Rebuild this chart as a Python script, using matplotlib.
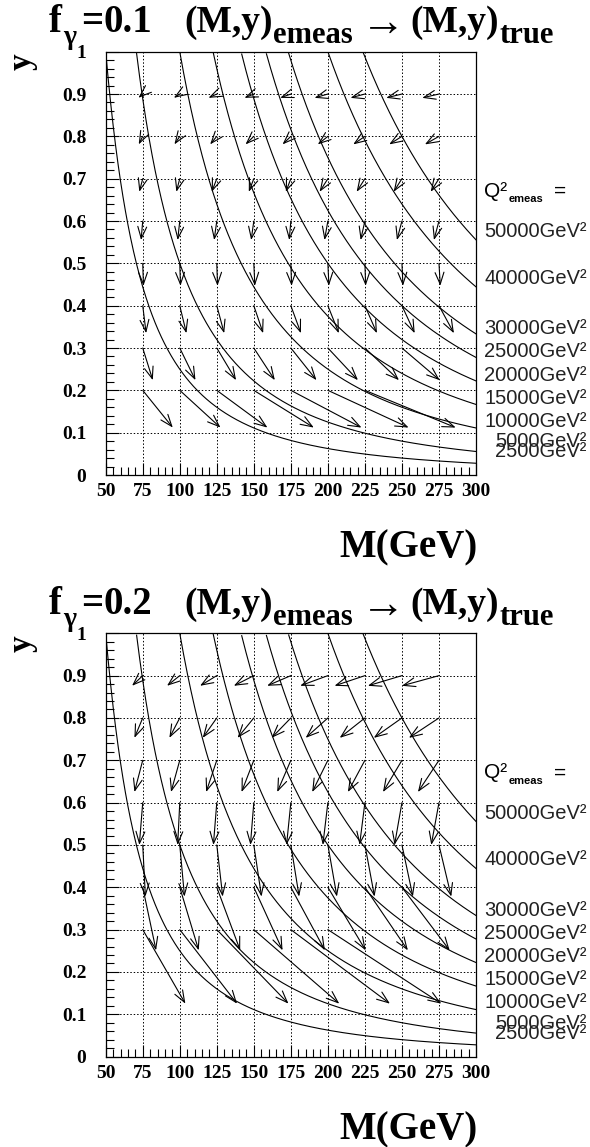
import numpy as np
import matplotlib
matplotlib.use("Agg")
import matplotlib.pyplot as plt
from matplotlib.ticker import MultipleLocator
from matplotlib.transforms import blended_transform_factory

# ---------------- data ----------------
f_gamma = ["0.1", "0.2"]

# iso-Q2 curves, y = Q2 / M^2
q2_values = [2500, 5000, 10000, 15000, 20000, 25000, 30000, 40000, 50000]
q2_label_y = [0.055, 0.078, 0.127, 0.181, 0.236, 0.291, 0.345, 0.465, 0.575]
q2_header_y = 0.670

# grid of measured points
m_grid = [75, 100, 125, 150, 175, 200, 225, 250, 275]
y_rows = [0.9, 0.8, 0.7, 0.6, 0.5, 0.4, 0.3, 0.2]

# shift in M (GeV) from measured to true, one list per measured-y row
dm_f01 = [
    [-2.9, -4.0, -5.6, -6.3, -7.2, -9.0, -9.7, -10.6, -11.3],
    [-2.7, -3.6, -4.5, -5.6, -5.6, -6.8, -7.9, -8.6, -9.5],
    [-2.3, -2.3, -3.4, -3.4, -3.4, -5.6, -5.6, -5.6, -5.6],
    [-1.1, -1.4, -1.8, -1.8, -1.1, -2.3, -2.9, -3.4, -3.4],
    [0.5, 0.5, 0.5, 0.7, 0.5, 0.7, 0.5, 0.7, 0.9],
    [2.3, 4.5, 5.0, 6.3, 6.8, 7.4, 8.1, 8.6, 10.1],
    [6.8, 10.6, 13.0, 14.2, 17.3, 20.3, 23.0, 25.5],
    [20.3, 27.5, 34.2, 40.5, 47.7, 54.5, 61.3],
]
dy_f01 = [-0.009, -0.019, -0.031, -0.045, -0.053, -0.065, -0.076, -0.088]

dm_f02 = [
    [-7.2, -8.6, -11.3, -13.5, -16.0, -18.7, -20.5, -23.0, -25.0],
    [-5.6, -7.0, -9.5, -11.0, -13.0, -15.0, -17.0, -19.0, -20.3],
    [-5.6, -5.9, -7.2, -8.3, -9.2, -10.6, -11.5, -12.8, -14.2],
    [-2.3, -1.4, -2.3, -2.3, -2.9, -3.4, -3.6, -5.0, -5.2],
    [1.8, 3.2, 4.0, 5.2, 5.6, 6.1, 6.5, 7.4, 8.3],
    [9.0, 12.8, 15.8, 19.4, 23.0, 25.5, 29.0, 32.2],
    [28.8, 38.7, 48.4, 57.7, 66.9, 76.6],
    [],
]
dy_f02 = [-0.024, -0.047, -0.075, -0.100, -0.122, -0.149, -0.175, -0.2]

x_ticks = [50, 75, 100, 125, 150, 175, 200, 225, 250, 275, 300]
y_ticks = [0, 0.1, 0.2, 0.3, 0.4, 0.5, 0.6, 0.7, 0.8, 0.9, 1]
y_tick_labels = ["0", "0.1", "0.2", "0.3", "0.4", "0.5", "0.6", "0.7", "0.8", "0.9", "1"]

# ---------------- drawing ----------------
W, H = 590, 1147
fig = plt.figure(figsize=(W / 100, H / 100), dpi=100)
renderer = fig.canvas.get_renderer()

serif = "Liberation Serif"
sans = "Liberation Sans"


def px_x(p):
    return p / W


def px_y(p):
    return 1 - p / H


def text_run(x0, baseline, pieces):
    """Lay out (string, size, drop_px, gap_px) pieces left to right."""
    x = x0
    for s, size, drop, gap in pieces:
        x += gap
        t = fig.text(px_x(x), px_y(baseline + drop), s, fontsize=size,
                     family=serif, weight="bold", va="baseline", ha="left")
        x += t.get_window_extent(renderer).width
    return x


def panel(top_px, fval, dms, dys):
    left, right, bottom = 105.7, 476.0, top_px + 423.3
    ax = fig.add_axes([px_x(left), px_y(bottom), (right - left) / W, 423.3 / H])
    ax.set_xlim(50, 300)
    ax.set_ylim(0, 1)

    # iso-Q2 curves
    m = np.linspace(50, 300, 600)
    for q2 in q2_values:
        yv = q2 / m ** 2
        ok = yv <= 1.0
        ax.plot(m[ok], yv[ok], color="black", lw=0.8, zorder=3)

    # arrows measured -> true
    for yr, row, dyr in zip(y_rows, dms, dys):
        for m0, dm in zip(m_grid, row):
            ax.annotate("", xy=(m0 + dm, yr + dyr), xytext=(m0, yr),
                        arrowprops=dict(arrowstyle="->,head_length=0.85,head_width=0.32",
                                        lw=0.8, color="black",
                                        shrinkA=0, shrinkB=0),
                        zorder=4)

    # axes styling
    ax.set_xticks(x_ticks)
    ax.set_xticklabels([str(t) for t in x_ticks])
    ax.set_yticks(y_ticks)
    ax.set_yticklabels(y_tick_labels)
    ax.xaxis.set_minor_locator(MultipleLocator(5))
    ax.yaxis.set_minor_locator(MultipleLocator(0.02))
    ax.tick_params(which="both", direction="in", top=False, right=False,
                   color="black", width=0.8)
    ax.tick_params(which="major", length=9)
    ax.tick_params(which="minor", length=6)
    ax.tick_params(axis="x", which="major", pad=6)
    ax.tick_params(axis="y", which="major", pad=14)
    for lab in ax.get_xticklabels() + ax.get_yticklabels():
        lab.set_fontfamily(serif)
        lab.set_fontweight("bold")
        lab.set_fontsize(14)
    ax.grid(True, which="major", color="black", lw=0.7, linestyle=(0, (1.5, 2)))
    for s in ax.spines.values():
        s.set_linewidth(0.9)

    # Q2 labels on the right
    tr = blended_transform_factory(ax.transAxes, ax.transData)
    for q2, yl in zip(q2_values, q2_label_y):
        xoff = 1.052 if q2 in (2500, 5000) else 1.022
        ax.text(xoff, yl, f"{q2}GeV²", transform=tr, fontsize=14.5,
                family=sans, color="#222222", va="center", ha="left")
    ax.text(1.022, q2_header_y, "Q²", transform=tr, fontsize=15,
            family=sans, color="black", va="center", ha="left")
    ax.text(1.087, q2_header_y - 0.019, "emeas", transform=tr, fontsize=8,
            family=sans, weight="bold", color="black", va="center", ha="left")
    ax.text(1.21, q2_header_y, "=", transform=tr, fontsize=15,
            family=sans, color="black", va="center", ha="left")

    # titles
    base = top_px - 19.7
    text_run(49, base, [("f", 28, 0, 0), ("γ", 20, 12, 1), ("=", 28, 0, 5),
                        (fval, 28, 0, 0)])
    text_run(184, base, [("(M,y)", 27, 0, 0), ("emeas", 22, 11, 0),
                         ("→", 32, 3, 9), ("(M,y)", 27, 0, 5),
                         ("true", 22, 11, 0)])
    fig.text(px_x(22), px_y(top_px + 10), "y", rotation=90, fontsize=24,
             family=serif, weight="bold", va="center", ha="center")
    fig.text(px_x(408), px_y(bottom + 73), "M(GeV)", fontsize=28,
             family=serif, weight="bold", va="center", ha="center")
    return ax


panel(51.7, f_gamma[0], dm_f01, dy_f01)
panel(633.3, f_gamma[1], dm_f02, dy_f02)

fig.savefig("out.png", dpi=100)
